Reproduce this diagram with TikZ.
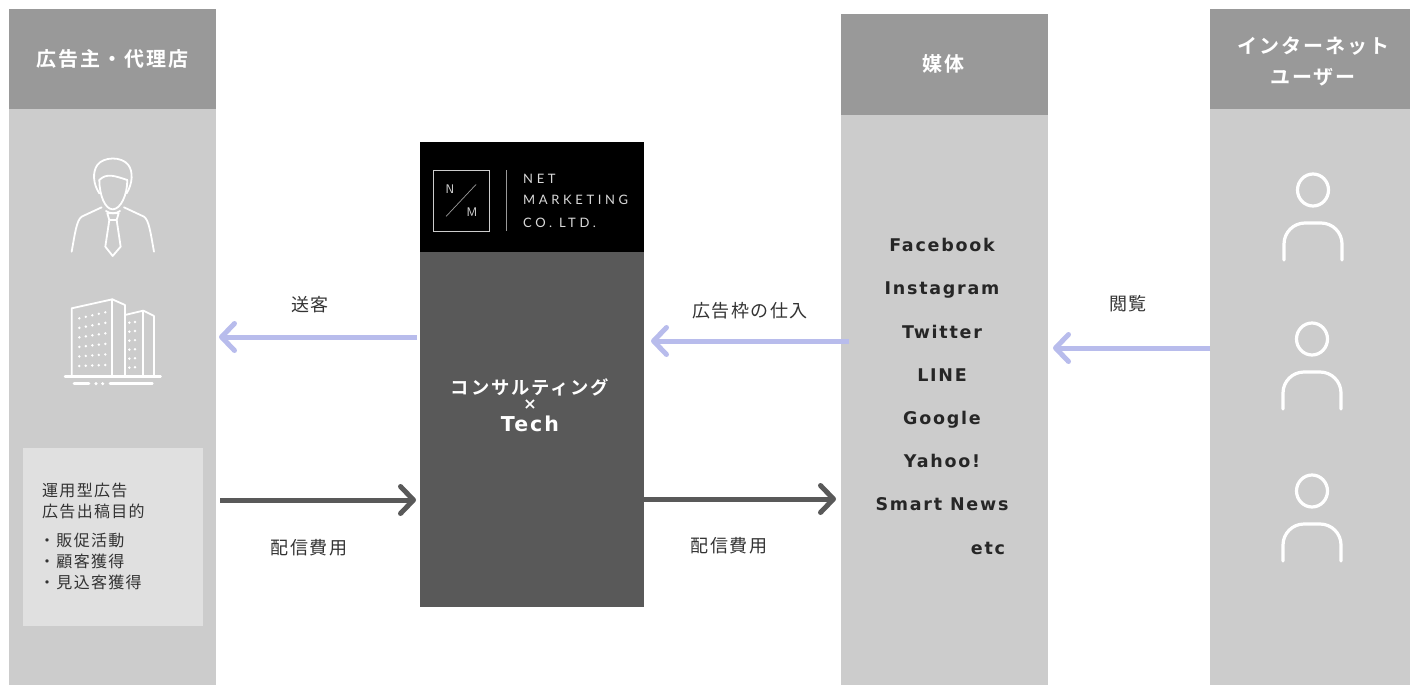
\documentclass[tikz,border=0pt]{standalone}
\usepackage{fontspec}
\usetikzlibrary{arrows.meta}
\newfontfamily\jpreg[LetterSpace=8]{Noto Sans CJK JP}
\newfontfamily\jpbold[LetterSpace=10,BoldFont={Noto Sans CJK JP Bold}]{Noto Sans CJK JP Bold}
\newfontfamily\latb[LetterSpace=10]{DejaVu Sans Bold}
\newfontfamily\logof[LetterSpace=28]{Lato}
\definecolor{headgray}{HTML}{999999}
\definecolor{bodygray}{HTML}{CCCCCC}
\definecolor{notegray}{HTML}{E0E0E0}
\definecolor{hubgray}{HTML}{595959}
\definecolor{flowblue}{HTML}{B8BCEC}
\tikzset{
  panel/.style={inner sep=0pt,outer sep=0pt,anchor=north west},
  headtext/.style={text=white,font=\jpbold\fontsize{20}{31}\selectfont,align=center,inner sep=0pt},
  medianame/.style={font=\latb\fontsize{17.5}{20}\selectfont,text=black!85,inner sep=0pt,anchor=base},
  flowlabel/.style={font=\jpreg\fontsize{18}{20}\selectfont,text=black!80,inner sep=0pt},
  notetext/.style={font=\jpreg\fontsize{16}{18}\selectfont,text=black!80,inner sep=0pt,anchor=west},
  flow/.style={line width=5pt,draw=flowblue,-{Straight Barb[length=13pt,width=27pt,round,line width=5pt]}},
  flowdark/.style={line width=5pt,draw=hubgray,-{Straight Barb[length=13pt,width=27pt,round,line width=5pt]}},
  icon/.style={draw=white,line width=1.8pt,line cap=round,line join=round},
  uicon/.style={draw=white,line width=3.2pt,line cap=round,line join=round},
  logotext/.style={text=white!85!black,font=\logof\fontsize{13}{15}\selectfont,inner sep=0pt,anchor=west}
}
\newcommand{\userfig}[1]{%
  \begin{scope}[shift={#1}]
    \draw[uicon] (0,-31) ellipse [x radius=15.5pt,y radius=16pt];
    \draw[uicon,rounded corners=21pt] (-29,39) -- (-29,2) -- (29,2) -- (29,39);
  \end{scope}}
\begin{document}
\begin{tikzpicture}[x=1pt,y=-1pt]
\useasboundingbox (0,0) rectangle (1410,685);
% columns
\node[panel,fill=bodygray,minimum width=207pt,minimum height=576pt] (advbody) at (9,109) {};
\node[panel,fill=headgray,minimum width=207pt,minimum height=100pt] (advhead) at (9,9) {};
\node[panel,fill=bodygray,minimum width=207pt,minimum height=570pt] (medbody) at (841,115) {};
\node[panel,fill=headgray,minimum width=207pt,minimum height=101pt] (medhead) at (841,14) {};
\node[panel,fill=bodygray,minimum width=200pt,minimum height=576pt] (usrbody) at (1210,109) {};
\node[panel,fill=headgray,minimum width=200pt,minimum height=100pt] (usrhead) at (1210,9) {};
\node[panel,fill=hubgray,minimum width=224pt,minimum height=355pt] (hub) at (420,252) {};
\node[panel,fill=black,minimum width=224pt,minimum height=110pt] (hubtop) at (420,142) {};
\node[panel,fill=notegray,minimum width=180pt,minimum height=178pt] (note) at (23,448) {};
% headers
\node[headtext] (t1) at (112.5,59) {広告主・代理店};
\node[headtext] (t2) at (943,64) {媒体};
\node[headtext] (t3) at (1313,61.5) {インターネット\\ユーザー};
% hub text
\node[text=white,font=\jpbold\fontsize{18.3}{20}\selectfont,inner sep=0pt] (h1) at (530,387) {コンサルティング};
\node[text=white,font=\latb\fontsize{16}{18}\selectfont,inner sep=0pt] (h2) at (530,405) {×};
\node[text=white,font=\latb\fontsize{20.5}{22}\selectfont,inner sep=0pt] (h3) at (530,424) {Tech};
% logo
\node[draw=white!80!black,line width=.7pt,minimum width=56pt,minimum height=61pt,panel] (logobox) at (433.3,170) {};
\draw[white!60!black,line width=.7pt] (446,216.5) -- (476,184.5);
\node[text=white!85!black,font=\sffamily\fontsize{12.5}{13}\selectfont,inner sep=0pt] (ln) at (450,189) {N};
\node[text=white!85!black,font=\sffamily\fontsize{12.5}{13}\selectfont,inner sep=0pt] (lm) at (472,212) {M};
\draw[white!60!black,line width=.7pt] (506.7,170) -- (506.7,231);
\node[logotext] (l1) at (523,179) {NET};
\node[logotext] (l2) at (523,200) {MARKETING};
\node[logotext] (l3) at (523,223) {CO. LTD.};
% media list
\node[medianame] (m1) at (942,251) {Facebook};
\node[medianame] (m2) at (942,294) {Instagram};
\node[medianame] (m3) at (942,338) {Twitter};
\node[medianame] (m4) at (942,381) {LINE};
\node[medianame] (m5) at (942,424) {Google};
\node[medianame] (m6) at (942,467) {Yahoo!};
\node[medianame] (m7) at (942,510) {Smart News};
\node[medianame] (m8) at (988,554) {etc};
% note
\node[notetext] (n1) at (42,490) {運用型広告};
\node[notetext] (n2) at (42,511) {広告出稿目的};
\node[notetext] (n3) at (39,540) {・販促活動};
\node[notetext] (n4) at (39,561) {・顧客獲得};
\node[notetext] (n5) at (39,582) {・見込客獲得};
% flow labels
\node[flowlabel] (f1) at (310,305) {送客};
\node[flowlabel] (f2) at (750,311) {広告枠の仕入};
\node[flowlabel] (f3) at (1128,304) {閲覧};
\node[flowlabel] (f4) at (309,548) {配信費用};
\node[flowlabel] (f5) at (729,546) {配信費用};
% connectors
\coordinate (y1) at (0,337);
\coordinate (y2) at (0,341);
\coordinate (y3) at (0,348);
\coordinate (y4) at (0,500);
\coordinate (y5) at (0,499);
\draw[flow,shorten <=3pt,shorten >=3pt] (hub.west |- y1) -- (advbody.east |- y1);
\draw[flow,shorten <=-8pt,shorten >=7pt] (medbody.west |- y2) -- (hub.east |- y2);
\draw[flow,shorten >=5pt] (usrbody.west |- y3) -- (medbody.east |- y3);
\draw[flowdark,shorten <=4pt,shorten >=4pt] (advbody.east |- y4) -- (hub.west |- y4);
\draw[flowdark,shorten >=5pt] (hub.east |- y5) -- (medbody.west |- y5);
% users
\userfig{(1313,221)}
\userfig{(1312,370)}
\userfig{(1312,522)}
% man icon (coordinates of 3x crop)
\begin{scope}[shift={(0,130)},x=0.3333pt,y=-0.3333pt,icon]
  \draw (298,150) .. controls (320,128) and (345,138) .. (382,150);
  \draw (298,150) .. controls (298,195) and (315,238) .. (338,238) .. controls (362,238) and (382,195) .. (382,150);
  \draw (298,190) .. controls (278,160) and (278,125) .. (292,105) .. controls (310,80) and (365,78) .. (385,105) .. controls (400,125) and (398,160) .. (380,190);
  \draw (305,232) -- (245,260) .. controls (230,270) and (225,310) .. (215,365);
  \draw (372,232) -- (432,260) .. controls (447,270) and (452,310) .. (462,365);
  \draw (318,243) .. controls (328,252) and (350,252) .. (360,243);
  \draw (322,250) -- (356,250) -- (350,270) -- (328,270) -- cycle;
  \draw (328,270) -- (316,350) -- (338,378) -- (362,350) -- (350,270);
\end{scope}
% building icon
\begin{scope}[shift={(0,130)},x=0.3333pt,y=-0.3333pt,icon]
  \draw (215,739) -- (215,535) -- (337,508) -- (375,525) -- (375,739);
  \draw (337,508) -- (337,739);
  \draw (375,555) -- (430,542) -- (462,558) -- (462,739);
  \draw (430,542) -- (430,739);
  \draw[line width=2.4pt] (195,739) -- (482,739);
  \draw[line width=2.8pt] (222,761) -- (267,761);
  \draw[line width=2.8pt] (330,761) -- (457,761);
  \fill[white] (288,761) circle (1.7pt) (308,761) circle (1.7pt);
  \foreach \r in {0,...,5}{
    \foreach \c in {0,...,4}{
      \fill[white] ({238+\c*19.5},{565-\c*(18-\r*3)/4+\r*28.6}) circle (1.35pt);
    }
    \fill[white] (388,{578+\r*27}) circle (1.35pt) (405,{576+\r*27.2}) circle (1.35pt);
  }
\end{scope}
\end{tikzpicture}
\end{document}
